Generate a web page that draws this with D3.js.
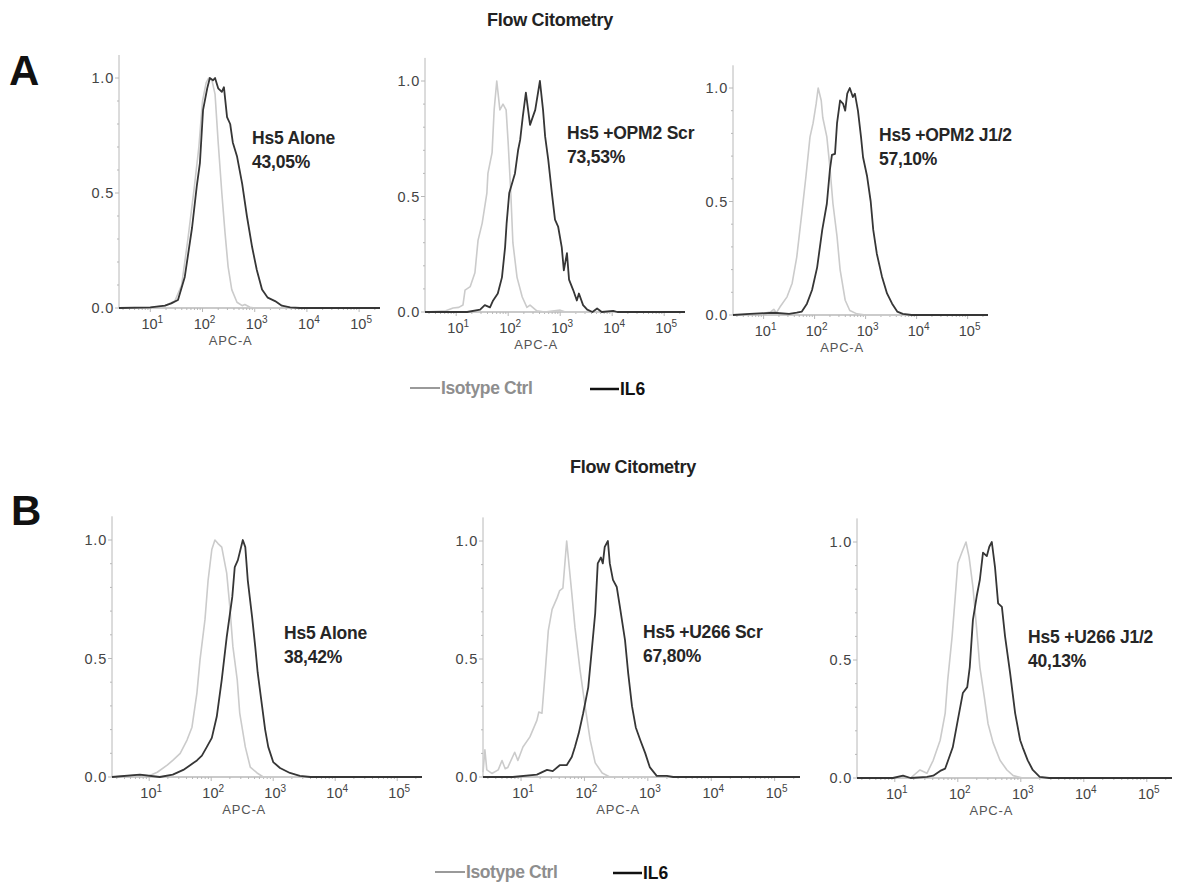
<!DOCTYPE html>
<html>
<head>
<meta charset="utf-8">
<script src="https://cdn.jsdelivr.net/npm/d3@7"></script>
<style>
  body { margin: 0; background: #fff; }
  svg { display: block; font-family: "Liberation Sans", Arial, sans-serif; }
</style>
</head>
<body>
<svg id="chart" width="1185" height="885"></svg>
<script>
// Data: each curve is [log10(APC-A), normalized count]
const decades = [1, 2, 3, 4, 5];
const yTicks = [0, 0.5, 1.0];
const titles = ["Flow Citometry", "Flow Citometry"];
const legendLabels = ["Isotype Ctrl", "IL6"];
const panelNames = ["Hs5 Alone", "Hs5 +OPM2 Scr", "Hs5 +OPM2 J1/2", "Hs5 Alone", "Hs5 +U266 Scr", "Hs5 +U266 J1/2"];
const panelPercents = ["43,05%", "73,53%", "57,10%", "38,42%", "67,80%", "40,13%"];

const isoA1 = [[0.4,0],[1.0,0.002],[1.28,0.01],[1.47,0.03],[1.6,0.1],[1.72,0.3],[1.84,0.52],[1.93,0.7],[2.0,0.9],[2.07,0.98],[2.12,1.0],[2.18,0.99],[2.24,0.93],[2.3,0.72],[2.37,0.5],[2.43,0.33],[2.49,0.18],[2.56,0.08],[2.66,0.025],[2.76,0.01],[2.81,0.015],[2.91,0.003],[3.0,0],[5.4,0]];
const il6A1 = [[0.4,0],[1.0,0.003],[1.28,0.01],[1.4,0.02],[1.53,0.035],[1.66,0.135],[1.8,0.35],[1.89,0.53],[1.95,0.63],[2.01,0.86],[2.09,0.955],[2.14,1.0],[2.2,0.99],[2.24,1.0],[2.3,0.955],[2.37,0.94],[2.41,0.96],[2.47,0.83],[2.53,0.8],[2.58,0.72],[2.66,0.66],[2.76,0.54],[2.85,0.4],[2.95,0.265],[3.04,0.165],[3.14,0.08],[3.25,0.045],[3.39,0.03],[3.52,0.01],[3.68,0.003],[3.87,0],[5.4,0]];

const isoA2 = [[0.4,0],[0.8,0.005],[0.94,0.017],[1.05,0.02],[1.13,0.03],[1.17,0.095],[1.27,0.11],[1.36,0.17],[1.42,0.31],[1.5,0.385],[1.59,0.515],[1.61,0.6],[1.69,0.69],[1.73,0.875],[1.78,1.0],[1.84,0.875],[1.9,0.9],[1.96,0.875],[2.0,0.73],[2.05,0.515],[2.09,0.3],[2.17,0.15],[2.27,0.065],[2.36,0.02],[2.42,0.03],[2.55,0.005],[2.7,0],[3.0,0.008],[3.1,0],[5.4,0]];
const il6A2 = [[0.4,0],[1.21,0],[1.46,0.01],[1.55,0.03],[1.65,0.02],[1.71,0.05],[1.8,0.08],[1.88,0.15],[1.94,0.28],[1.97,0.385],[2.02,0.515],[2.13,0.6],[2.19,0.7],[2.23,0.745],[2.28,0.845],[2.34,0.95],[2.42,0.81],[2.52,0.875],[2.61,1.0],[2.67,0.875],[2.71,0.76],[2.77,0.66],[2.84,0.515],[2.9,0.4],[2.96,0.37],[3.03,0.28],[3.07,0.18],[3.13,0.255],[3.17,0.14],[3.25,0.095],[3.32,0.05],[3.36,0.08],[3.44,0.03],[3.52,0.01],[3.62,0],[3.71,0.015],[3.8,0],[4.02,0.005],[4.1,0],[5.4,0]];

const isoA3 = [[0.4,0],[0.9,0.003],[1.13,0.013],[1.2,0.025],[1.25,0.01],[1.32,0.035],[1.46,0.08],[1.56,0.14],[1.65,0.255],[1.75,0.45],[1.83,0.61],[1.91,0.785],[1.97,0.845],[2.03,0.93],[2.07,1.0],[2.13,0.945],[2.16,0.87],[2.24,0.785],[2.3,0.65],[2.36,0.49],[2.44,0.345],[2.5,0.2],[2.6,0.065],[2.69,0.02],[2.83,0.005],[3.0,0],[5.4,0]];
const il6A3 = [[0.4,0],[0.73,0.005],[1.2,0.01],[1.5,0.005],[1.65,0.01],[1.75,0.015],[1.85,0.05],[1.95,0.11],[2.05,0.21],[2.15,0.375],[2.24,0.49],[2.3,0.64],[2.34,0.705],[2.4,0.71],[2.44,0.845],[2.5,0.945],[2.56,0.93],[2.6,0.9],[2.64,0.975],[2.69,1.0],[2.75,0.96],[2.79,0.975],[2.85,0.9],[2.91,0.785],[2.95,0.695],[3.03,0.61],[3.1,0.5],[3.15,0.375],[3.22,0.27],[3.32,0.17],[3.42,0.095],[3.52,0.05],[3.62,0.015],[3.73,0.005],[3.9,0],[5.4,0]];

const isoB1 = [[0.4,0],[0.85,0.008],[1.0,0.005],[1.13,0.02],[1.29,0.05],[1.38,0.07],[1.5,0.1],[1.61,0.156],[1.69,0.21],[1.77,0.355],[1.82,0.495],[1.9,0.665],[1.95,0.83],[2.01,0.96],[2.06,1.0],[2.11,0.985],[2.17,0.97],[2.25,0.86],[2.3,0.72],[2.35,0.55],[2.42,0.41],[2.46,0.27],[2.55,0.127],[2.63,0.042],[2.74,0.017],[2.84,0],[5.4,0]];
const il6B1 = [[0.4,0],[0.85,0.01],[1.17,0],[1.38,0.01],[1.55,0.03],[1.66,0.05],[1.77,0.07],[1.85,0.09],[1.93,0.127],[2.01,0.165],[2.09,0.255],[2.17,0.41],[2.25,0.59],[2.34,0.76],[2.38,0.886],[2.43,0.915],[2.51,1.0],[2.55,0.97],[2.59,0.83],[2.66,0.675],[2.71,0.55],[2.75,0.44],[2.82,0.3],[2.87,0.2],[2.92,0.127],[3.0,0.063],[3.11,0.038],[3.27,0.017],[3.43,0.005],[3.6,0],[5.4,0]];

const isoB2 = [[0.4,0.02],[0.43,0.115],[0.46,0.03],[0.54,0.015],[0.64,0.03],[0.7,0.07],[0.75,0.035],[0.79,0.04],[0.9,0.105],[0.95,0.07],[1.03,0.127],[1.14,0.17],[1.25,0.24],[1.28,0.275],[1.33,0.27],[1.38,0.44],[1.43,0.62],[1.49,0.71],[1.57,0.76],[1.61,0.79],[1.66,0.8],[1.72,1.0],[1.76,0.89],[1.8,0.78],[1.85,0.635],[1.93,0.455],[2.01,0.3],[2.09,0.157],[2.17,0.06],[2.28,0.017],[2.4,0],[5.4,0]];
const il6B2 = [[0.4,0],[0.87,0],[1.25,0.01],[1.41,0.03],[1.5,0.025],[1.61,0.05],[1.72,0.05],[1.8,0.085],[1.85,0.127],[1.91,0.185],[1.98,0.27],[2.06,0.38],[2.12,0.55],[2.17,0.695],[2.21,0.905],[2.26,0.93],[2.29,0.905],[2.32,0.975],[2.37,1.0],[2.4,0.905],[2.45,0.835],[2.51,0.805],[2.56,0.72],[2.64,0.58],[2.69,0.44],[2.75,0.3],[2.81,0.21],[2.88,0.157],[2.96,0.1],[3.03,0.042],[3.14,0.005],[3.3,0.005],[3.4,0],[5.4,0]];

const isoB3 = [[0.4,0],[1.0,0],[1.13,0.005],[1.25,0],[1.4,0.034],[1.51,0.02],[1.61,0.075],[1.72,0.16],[1.8,0.275],[1.84,0.415],[1.91,0.6],[1.96,0.77],[2.0,0.91],[2.07,0.96],[2.13,1.0],[2.18,0.935],[2.24,0.81],[2.3,0.63],[2.35,0.47],[2.42,0.345],[2.48,0.23],[2.56,0.15],[2.67,0.075],[2.78,0.034],[2.88,0.01],[3.03,0],[5.4,0]];
const il6B3 = [[0.4,0],[0.97,0],[1.13,0.01],[1.25,0],[1.51,0.005],[1.61,0.01],[1.72,0.03],[1.8,0.04],[1.84,0.07],[1.92,0.13],[2.0,0.245],[2.08,0.36],[2.15,0.385],[2.19,0.47],[2.24,0.67],[2.3,0.77],[2.35,0.84],[2.4,0.955],[2.46,0.94],[2.5,0.98],[2.54,1.0],[2.59,0.895],[2.64,0.74],[2.7,0.725],[2.75,0.6],[2.83,0.445],[2.91,0.275],[2.99,0.16],[3.03,0.13],[3.11,0.075],[3.19,0.034],[3.3,0.005],[3.45,0],[5.4,0]];

const isoCurves = [isoA1, isoA2, isoA3, isoB1, isoB2, isoB3];
const il6Curves = [il6A1, il6A2, il6A3, il6B1, il6B2, il6B3];

// panel layout (pixels)
const panels = [
  { left: 119, right: 380, y0: 308, y1: 78, tx: 252, ty: 144 },
  { left: 425, right: 685, y0: 312, y1: 81, tx: 567, ty: 139 },
  { left: 733, right: 988, y0: 315, y1: 88, tx: 879, ty: 141 },
  { left: 112, right: 422, y0: 777, y1: 540, tx: 284, ty: 639 },
  { left: 483, right: 800, y0: 777, y1: 541, tx: 643, ty: 638 },
  { left: 857, right: 1172, y0: 778, y1: 542, tx: 1028, ty: 643 }
];

const svg = d3.select("#chart");
const axisColor = "#b8b8b8";
const isoColor = "#cbcbcb";
const il6Color = "#363636";

panels.forEach((p, i) => {
  const x = d3.scaleLog().domain([10 ** 0.4, 10 ** 5.4]).range([p.left, p.right]);
  const y = d3.scaleLinear().domain([0, 1]).range([p.y0, p.y1]);
  const g = svg.append("g");

  // y axis
  g.append("line")
    .attr("x1", p.left).attr("x2", p.left)
    .attr("y1", y(0)).attr("y2", y(1.1))
    .attr("stroke", axisColor).attr("stroke-width", 1);
  d3.range(0, 11).forEach(k => {
    g.append("line")
      .attr("x1", p.left - (k % 5 === 0 ? 4 : 2)).attr("x2", p.left)
      .attr("y1", y(k / 10)).attr("y2", y(k / 10))
      .attr("stroke", axisColor);
  });
  yTicks.forEach(t => {
    g.append("text")
      .attr("x", p.left - 5).attr("y", y(t) + 5)
      .attr("text-anchor", "end")
      .attr("font-size", 14.5)
      .attr("letter-spacing", 0.8)
      .attr("fill", "#444")
      .text(t.toFixed(1));
  });

  // x axis
  g.append("line")
    .attr("x1", p.left).attr("x2", p.right)
    .attr("y1", y(0)).attr("y2", y(0))
    .attr("stroke", axisColor).attr("stroke-width", 1.5);
  d3.range(0, 6).forEach(d => {
    d3.range(1, 10).forEach(m => {
      const v = m * 10 ** d;
      if (v < x.domain()[0] || v > x.domain()[1]) return;
      g.append("line")
        .attr("x1", x(v)).attr("x2", x(v))
        .attr("y1", y(0)).attr("y2", y(0) + (m === 1 ? 4 : 2))
        .attr("stroke", axisColor);
    });
  });
  decades.forEach(d => {
    const t = g.append("text")
      .attr("x", x(10 ** d) + 2).attr("y", y(0) + 21)
      .attr("text-anchor", "middle")
      .attr("font-size", 14.5)
      .attr("fill", "#444")
      .text("10");
    t.append("tspan").attr("font-size", 10).attr("dy", -6).text(d);
  });
  g.append("text")
    .attr("x", x(10 ** 2.5) + 2).attr("y", y(0) + 37)
    .attr("text-anchor", "middle")
    .attr("font-size", 13)
    .attr("letter-spacing", 0.8)
    .attr("fill", "#555")
    .text("APC-A");

  const line = d3.line()
    .x(d => x(10 ** d[0]))
    .y(d => y(d[1]));

  g.append("path")
    .datum(isoCurves[i])
    .attr("d", line)
    .attr("fill", "none")
    .attr("stroke", isoColor)
    .attr("stroke-width", 1.6)
    .attr("stroke-linejoin", "round");
  g.append("path")
    .datum(il6Curves[i])
    .attr("d", line)
    .attr("fill", "none")
    .attr("stroke", il6Color)
    .attr("stroke-width", 1.8)
    .attr("stroke-linejoin", "round");

  // sample label
  g.append("text")
    .attr("x", p.tx).attr("y", p.ty)
    .attr("font-size", 17.5).attr("font-weight", "bold")
    .attr("fill", "#262626")
    .attr("letter-spacing", -0.2)
    .text(panelNames[i]);
  g.append("text")
    .attr("x", p.tx).attr("y", p.ty + 24)
    .attr("font-size", 17.5).attr("font-weight", "bold")
    .attr("fill", "#262626")
    .attr("letter-spacing", -0.2)
    .text(panelPercents[i]);
});

// titles and panel letters
const titlePos = [{ x: 550, y: 26 }, { x: 633, y: 473 }];
titlePos.forEach((t, i) => {
  svg.append("text")
    .attr("x", t.x).attr("y", t.y)
    .attr("text-anchor", "middle")
    .attr("font-size", 18).attr("font-weight", "bold")
    .attr("fill", "#222")
    .attr("letter-spacing", -0.3)
    .text(titles[i]);
});
svg.append("text").attr("x", 9).attr("y", 85)
  .attr("font-size", 42).attr("font-weight", "bold").attr("fill", "#111").text("A");
svg.append("text").attr("x", 11).attr("y", 525)
  .attr("font-size", 42).attr("font-weight", "bold").attr("fill", "#111").text("B");

// legends
const legendPos = [{ x: 410, x2: 590, y: 388 }, { x: 435, x2: 613, y: 872 }];
legendPos.forEach(l => {
  svg.append("line")
    .attr("x1", l.x).attr("x2", l.x + 30)
    .attr("y1", l.y).attr("y2", l.y)
    .attr("stroke", "#9a9a9a").attr("stroke-width", 2);
  svg.append("text")
    .attr("x", l.x + 31).attr("y", l.y + 6)
    .attr("font-size", 17.5).attr("font-weight", "bold")
    .attr("fill", "#8e8e8e")
    .attr("letter-spacing", -0.4)
    .text(legendLabels[0]);
  svg.append("line")
    .attr("x1", l.x2).attr("x2", l.x2 + 29)
    .attr("y1", l.y + 1).attr("y2", l.y + 1)
    .attr("stroke", "#111").attr("stroke-width", 2.5);
  svg.append("text")
    .attr("x", l.x2 + 30).attr("y", l.y + 7)
    .attr("font-size", 17.5).attr("font-weight", "bold")
    .attr("fill", "#111")
    .text(legendLabels[1]);
});
</script>
</body>
</html>
